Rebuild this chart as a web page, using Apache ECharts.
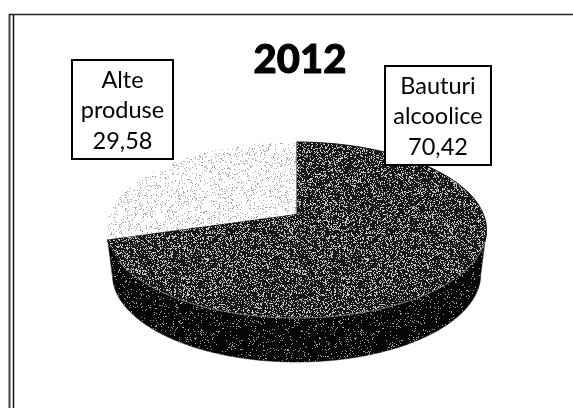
<!DOCTYPE html>
<html><head><meta charset="utf-8">
<style>html,body{margin:0;padding:0;background:#fff}#c{width:573px;height:408px}</style>
<script src="https://cdn.jsdelivr.net/npm/echarts@6/dist/echarts.min.js"></script>
</head><body><div id="c"></div>
<script>
const titleText = '2012';
const categories = [['Bauturi', 'alcoolice'], ['Alte', 'produse']];
const values = [70.42, 29.58];
const valueLabels = ['70,42', '29,58'];

// 1-bit style speckle, from a fixed-seed generator so the page is repeatable
function speckle(base, dot, share, seed) {
  const n = 160, cv = document.createElement('canvas');
  cv.width = cv.height = n;
  const g = cv.getContext('2d');
  g.fillStyle = base; g.fillRect(0, 0, n, n);
  g.fillStyle = dot;
  let s = seed;
  for (let y = 0; y < n; y++) for (let x = 0; x < n; x++) {
    s = (s * 1664525 + 1013904223) >>> 0;
    if ((s >>> 8) % 1000 < share * 1000) g.fillRect(x, y, 1, 1);
  }
  return { image: cv, repeat: 'repeat' };
}
const topFills = [speckle('#161616', '#c4c4c4', 0.25, 7), speckle('#ffffff', '#a8a8a8', 0.12, 11)];
const wallFill = speckle('#050505', '#a0a0a0', 0.07, 23);

// Tilted disc: the perspective puts the pie's centre above the ellipse's centre.
const apexX = 296.5, apexY = 214, tilt = 0.182, radX = 186.8, radY = 85.1;
function project(deg, scaleX, shift) {
  const a = deg * Math.PI / 180, u = Math.sin(a), v = -Math.cos(a), w = 1 - tilt * v;
  return [apexX + scaleX * radX * u / w, apexY + shift + radY * v / w];
}
function arc(from, to, scaleX, shift) {
  const out = [], steps = Math.max(2, Math.ceil(Math.abs(to - from)));
  for (let i = 0; i <= steps; i++) out.push(project(from + (to - from) * i / steps, scaleX, shift));
  return out;
}
const total = values.reduce((a, b) => a + b, 0);
const labelBoxes = [[385, 66, 106, 99], [72, 60, 101, 99]];

function renderSlice(params, api) {
  const i = params.dataIndex;
  const before = values.slice(0, i).reduce((a, b) => a + b, 0);
  const start = before / total * 360, end = start + api.value(0) / total * 360;
  const kids = [];
  if (i === 0) {
    const top = arc(100.5, end, 1, 0);
    const bottom = arc(end, 100.5, 0.97, 44);
    kids.push({ type: 'polygon', shape: { points: top.concat(bottom) }, style: { fill: wallFill, stroke: '#050505', lineWidth: 0.5 } });
  }
  kids.push({ type: 'polygon', shape: { points: [[apexX, apexY]].concat(arc(start, end, 1, 0)) },
    style: { fill: topFills[i], stroke: i === 0 ? '#111' : null, lineWidth: 1 } });
  if (i === 0) {
    kids.push({ type: 'polyline', shape: { points: arc(108, 240, 1, 0) },
      style: { fill: null, stroke: '#c8c8c8', lineWidth: 0.8, lineDash: [3, 1] } });
  }
  return { type: 'group', children: kids };
}
function renderLabel(params) {
  const i = params.dataIndex, b = labelBoxes[i];
  return { type: 'group', children: [
    { type: 'rect', shape: { x: b[0], y: b[1], width: b[2], height: b[3] },
      style: { fill: '#fff', stroke: '#000', lineWidth: 2 } },
    { type: 'text', x: b[0] + b[2] / 2, y: b[1] + b[3] / 2 + 1,
      style: { text: categories[i].concat(valueLabels[i]).join('\n'), fill: '#000', align: 'center', verticalAlign: 'middle',
        font: '23.5px Lato', lineHeight: 30.5 } }
  ] };
}
const chart = echarts.init(document.getElementById('c'), null, { renderer: 'canvas' });
chart.setOption({
  animation: false,
  backgroundColor: '#fff',
  title: { text: titleText, left: 295, top: 35, textAlign: 'center',
    textStyle: { fontFamily: 'Lato', fontWeight: 900, fontSize: 40, color: '#000', textBorderColor: '#000', textBorderWidth: 1 } },
  graphic: [
    { type: 'line', shape: { x1: 9.5, y1: 14, x2: 9.5, y2: 408 }, style: { stroke: '#444', lineWidth: 2 } },
    { type: 'line', shape: { x1: 13.5, y1: 14, x2: 13.5, y2: 408 }, style: { stroke: '#111', lineWidth: 1.5 } },
    { type: 'line', shape: { x1: 9, y1: 14.5, x2: 573, y2: 14.5 }, style: { stroke: '#222', lineWidth: 1.5 } }
  ],
  series: [
    { type: 'custom', coordinateSystem: 'none', silent: true, z: 2, renderItem: renderSlice,
      data: values.map(v => [v]) },
    { type: 'custom', coordinateSystem: 'none', silent: true, z: 3, renderItem: renderLabel,
      data: values.map(v => [v]) }
  ]
});
</script></body></html>
